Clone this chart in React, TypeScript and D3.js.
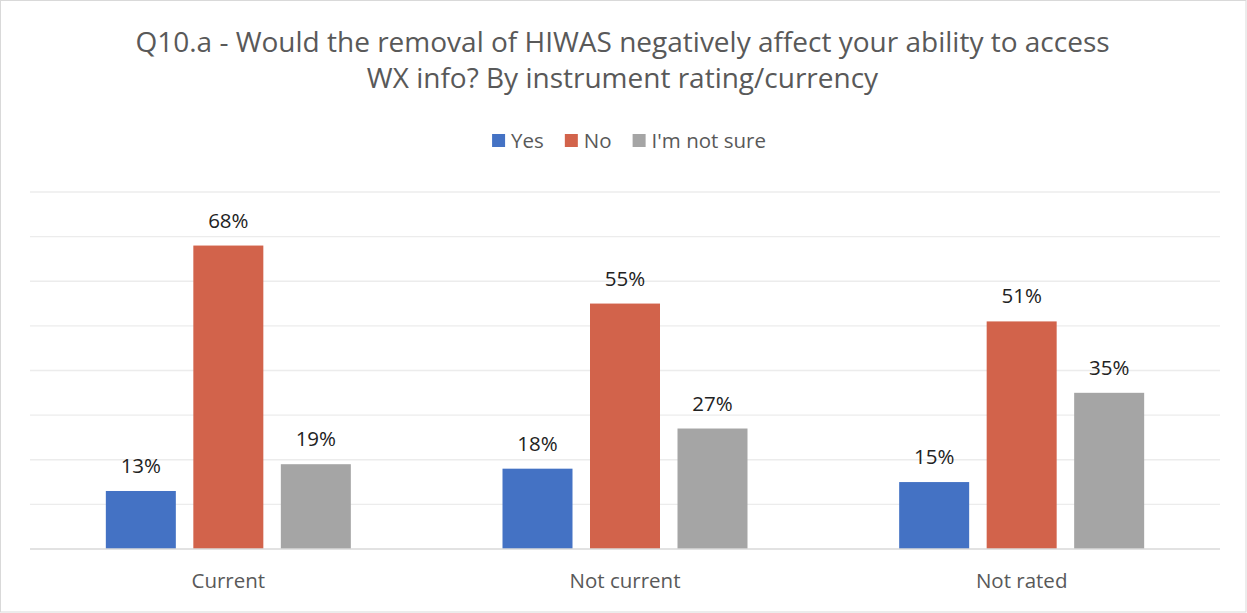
import React, { useEffect, useRef } from "react";
import * as d3 from "d3";

const categories = ["Current", "Not current", "Not rated"];
const seriesNames = ["Yes", "No", "I'm not sure"];
const yesValues = [13, 18, 15];
const noValues = [68, 55, 51];
const notSureValues = [19, 27, 35];
const gridTicks = [10, 20, 30, 40, 50, 60, 70, 80];
const titleLines = [
  "Q10.a - Would the removal of HIWAS negatively affect your ability to access",
  "WX info? By instrument rating/currency",
];

const colors = ["#4472c4", "#d2634b", "#a5a5a5"];
const FONT = "'Open Sans', 'Liberation Sans', sans-serif";

const App = () => {
  const svgRef = useRef<SVGSVGElement>(null);

  useEffect(() => {
    document.body.style.margin = "0";
    const W = 1247;
    const H = 613;
    const left = 30;
    const right = 1220;
    const base = 549;
    const top = 192;

    const svg = d3.select(svgRef.current).attr("width", W).attr("height", H);
    svg.selectAll("*").remove();

    svg.append("rect")
      .attr("x", 0.5).attr("y", 0.5)
      .attr("width", W - 1.5).attr("height", H - 1.5)
      .attr("fill", "#fff")
      .attr("stroke", "#d9d9d9");

    // title
    svg.selectAll(".title")
      .data(titleLines)
      .enter().append("text")
      .attr("class", "title")
      .attr("x", W / 2 - 1)
      .attr("y", (d, i) => 52 + i * 36)
      .attr("text-anchor", "middle")
      .attr("font-family", FONT)
      .attr("font-size", 28)
      .attr("fill", "#595959")
      .text(d => d);

    const series = seriesNames.map((name, i) => ({
      name,
      values: [yesValues, noValues, notSureValues][i],
      color: colors[i],
    }));

    const x0 = d3.scaleBand().domain(categories).range([left, right]).padding(0);
    const groupW = 245;
    const x1 = d3.scaleBand().domain(seriesNames).range([0, groupW]).paddingInner(0.2).paddingOuter(0);
    const y = d3.scaleLinear().domain([0, 80]).range([base, top]);

    // gridlines
    svg.append("g")
      .selectAll("line")
      .data(gridTicks)
      .enter().append("line")
      .attr("x1", left).attr("x2", right)
      .attr("y1", d => y(d)).attr("y2", d => y(d))
      .attr("stroke", "#ececec")
      .attr("stroke-width", 1.3);

    // bars
    const groups = svg.append("g")
      .selectAll("g")
      .data(categories)
      .enter().append("g")
      .attr("transform", d => `translate(${x0(d)! + (x0.bandwidth() - groupW) / 2},0)`);

    groups.selectAll("rect")
      .data((c, ci) => series.map(s => ({ name: s.name, v: s.values[ci], color: s.color })))
      .enter().append("rect")
      .attr("x", d => x1(d.name)!)
      .attr("y", d => y(d.v))
      .attr("width", x1.bandwidth())
      .attr("height", d => base - y(d.v))
      .attr("fill", d => d.color);

    groups.selectAll("text")
      .data((c, ci) => series.map(s => ({ name: s.name, v: s.values[ci] })))
      .enter().append("text")
      .attr("x", d => x1(d.name)! + x1.bandwidth() / 2)
      .attr("y", d => y(d.v) - 18)
      .attr("text-anchor", "middle")
      .attr("font-family", FONT)
      .attr("font-size", 20.5)
      .attr("fill", "#222")
      .text(d => `${d.v}%`);

    // baseline
    svg.append("line")
      .attr("x1", left).attr("x2", right)
      .attr("y1", base).attr("y2", base)
      .attr("stroke", "#d9d9d9")
      .attr("stroke-width", 1.5);

    // category labels
    svg.append("g")
      .selectAll("text")
      .data(categories)
      .enter().append("text")
      .attr("x", d => x0(d)! + x0.bandwidth() / 2)
      .attr("y", 588)
      .attr("text-anchor", "middle")
      .attr("font-family", FONT)
      .attr("font-size", 20.5)
      .attr("fill", "#595959")
      .text(d => d);

    // legend
    const legend = svg.append("g");
    let cx = 0;
    series.forEach(s => {
      const item = legend.append("g").attr("transform", `translate(${cx},0)`);
      item.append("rect")
        .attr("x", 0).attr("y", 134)
        .attr("width", 13).attr("height", 13)
        .attr("fill", s.color);
      const t = item.append("text")
        .attr("x", 19).attr("y", 148)
        .attr("font-family", FONT)
        .attr("font-size", 20.5)
        .attr("fill", "#595959")
        .text(s.name);
      const w = (t.node() as SVGTextElement).getComputedTextLength();
      cx += 19 + w + 21;
    });
    const legendW = cx - 21;
    legend.attr("transform", `translate(${629 - legendW / 2},0)`);
  }, []);

  return <svg ref={svgRef}></svg>;
};

export default App;
